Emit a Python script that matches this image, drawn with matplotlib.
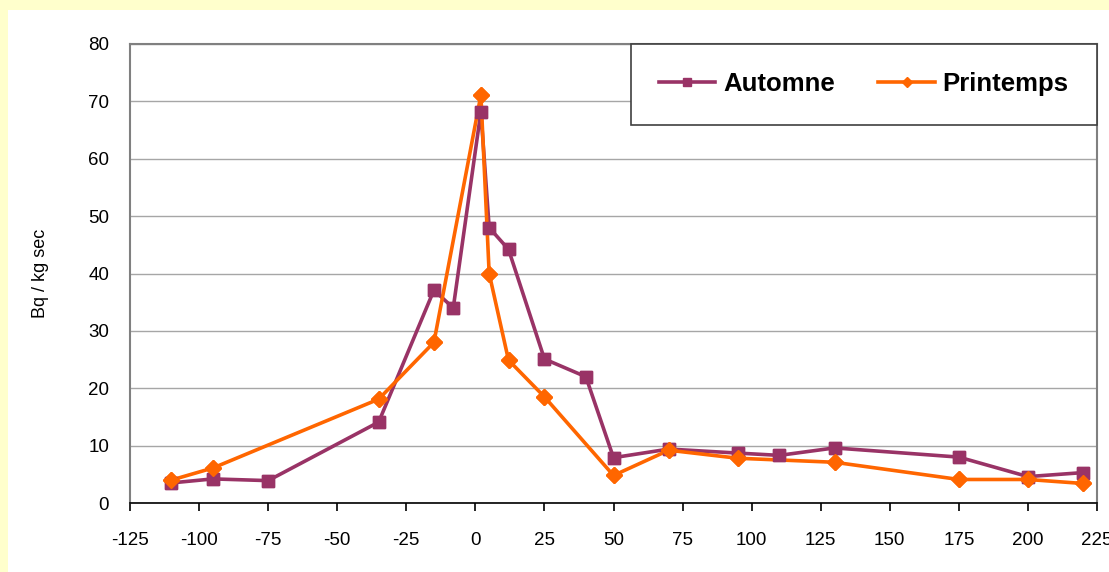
import matplotlib.pyplot as plt
from matplotlib.patches import Rectangle

plt.rcParams['font.family'] = ['Liberation Sans', 'DejaVu Sans']
plt.rcParams['axes.unicode_minus'] = False

# distance (m) and activity (Bq / kg sec)
autumn_x = [-110, -95, -75, -35, -15, -8, 2, 5, 12, 25, 40, 50, 70, 95, 110, 130, 175, 200, 220]
autumn_y = [3.5, 4.2, 3.9, 14.1, 37.1, 34.0, 68.2, 48.0, 44.2, 25.1, 22.0, 7.9, 9.4, 8.7, 8.3, 9.6, 8.0, 4.6, 5.3]

spring_x = [-110, -95, -35, -15, 2, 5, 12, 25, 50, 70, 95, 130, 175, 200, 220]
spring_y = [4.0, 6.1, 18.1, 28.0, 71.1, 40.0, 24.9, 18.5, 4.8, 9.2, 7.8, 7.1, 4.1, 4.1, 3.4]

x_ticks = list(range(-125, 226, 25))
y_ticks = list(range(0, 81, 10))

purple = '#993366'
orange = '#FF6600'

fig = plt.figure(figsize=(11.09, 5.72), dpi=100)
fig.patch.set_facecolor('#FFFFCC')
fig.add_artist(Rectangle((8 / 1109, 0), 1, (572 - 10) / 572, transform=fig.transFigure,
                         facecolor='white', edgecolor='none', zorder=0))

ax = fig.add_axes([130 / 1109, 1 - 503 / 572, (1097 - 130) / 1109, (503 - 44) / 572])
ax.set_facecolor('white')

la, = ax.plot(autumn_x, autumn_y, color=purple, lw=2.6, marker='s', ms=9, zorder=2, label='Automne')
lp, = ax.plot(spring_x, spring_y, color=orange, lw=2.6, marker='D', ms=8, zorder=2, label='Printemps')
# markers on top of both lines
ax.plot(autumn_x, autumn_y, ls='none', color=purple, marker='s', ms=9, zorder=3)
ax.plot(spring_x, spring_y, ls='none', color=orange, marker='D', ms=8, zorder=4)

ax.set_xlim(-125, 225)
ax.set_ylim(0, 80)
ax.set_xticks(x_ticks)
ax.set_yticks(y_ticks)
ax.tick_params(axis='x', direction='out', length=6, width=1.2, color='black', pad=15, labelsize=13.5)
ax.tick_params(axis='y', length=0, pad=15, labelsize=13.5)
ax.yaxis.grid(True, color='#a6a6a6', lw=1)
ax.set_axisbelow(True)

for s in ['left', 'top', 'right']:
    ax.spines[s].set_color('#808080')
    ax.spines[s].set_linewidth(1.5)
ax.spines['bottom'].set_color('black')
ax.spines['bottom'].set_linewidth(1.2)

ax.set_ylabel('Bq / kg sec', fontsize=13, labelpad=28)

leg = ax.legend(handles=[la, lp], loc='upper right', bbox_to_anchor=(1, 1), borderaxespad=0,
                ncol=2, fancybox=False, framealpha=1, edgecolor='#404040',
                prop={'weight': 'bold', 'size': 18.5}, handlelength=2.2, handletextpad=0.3,
                columnspacing=1.7, borderpad=1.1, markerscale=0.7)
leg.get_frame().set_linewidth(1.2)
leg.set_zorder(5)

fig.savefig('out.png', dpi=100, facecolor=fig.get_facecolor())
